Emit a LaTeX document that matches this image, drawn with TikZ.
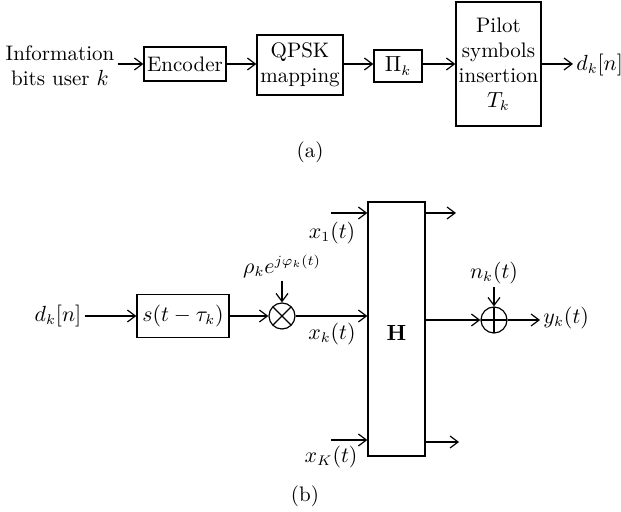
\documentclass[tikz,border=0pt]{standalone}
\usepackage{amsmath,amssymb}
\usepackage{tikz}
\usetikzlibrary{arrows.meta,positioning,calc}

\tikzset{
  blk/.style={draw, line width=0.6pt, inner sep=1pt, align=center},
  mixer/.style={draw, circle, line width=0.6pt, minimum size=13pt, inner sep=0pt},
  sig/.style={line width=0.6pt, -{Straight Barb[length=4pt,width=6pt]}},
  lbl/.style={inner sep=1.5pt, align=center}
}

\begin{document}
\begin{tikzpicture}[x=0.5pt, y=-0.5pt, font=\fontsize{10.5}{12.5}\selectfont]
  \useasboundingbox (0,0) rectangle (621,512);

  % (a) transmitter chain
  \node[lbl] (info) at (60,66) {Information\\bits user $k$};
  \node[blk, minimum width=41pt, minimum height=17pt] (enc) at (185,64) {Encoder};
  \node[blk, minimum width=43pt, minimum height=30pt] (qpsk) at (300,65) {QPSK\\mapping};
  \node[blk, minimum width=24pt, minimum height=16pt] (pi) at (398,66) {$\Pi_k$};
  \node[blk, minimum width=42.5pt, minimum height=62pt] (pilot) at (498.5,64) {Pilot\\symbols\\insertion\\$T_k$};
  \node[lbl, anchor=west] (dout) at (573,65) {$d_k[n]$};
  \draw[sig] (info.east |- enc.west) -- (enc.west);
  \draw[sig] (enc.east) -- (enc.east -| qpsk.west);
  \draw[sig] (enc.east -| qpsk.east) -- (enc.east -| pi.west);
  \draw[sig] (enc.east -| pi.east) -- (enc.east -| pilot.west);
  \draw[sig] (enc.east -| pilot.east) -- (dout.west |- enc.east);
  \node (capa) at (310,152) {(a)};

  % (b) channel model
  \node[lbl] (din) at (58,316) {$d_k[n]$};
  \node[blk, minimum width=46pt, minimum height=21.5pt] (shape) at (183,316) {$s(t-\tau_k)$};
  \node[mixer, path picture={
    \draw[line width=0.6pt] (path picture bounding box.south west) -- (path picture bounding box.north east)
      (path picture bounding box.north west) -- (path picture bounding box.south east);}] (mul) at (282,316) {};
  \node[lbl] (phase) at (282,266) {$\rho_k e^{j\varphi_k(t)}$};
  \node[blk, minimum width=28.5pt, minimum height=127pt] (H) at (396.5,329) {};
  \node (Hlbl) at (396.5,333) {$\mathbf{H}$};
  \node[mixer, path picture={
    \draw[line width=0.6pt] (path picture bounding box.north) -- (path picture bounding box.south)
      (path picture bounding box.west) -- (path picture bounding box.east);}] (add) at (494,320) {};
  \node[lbl] (noise) at (494,273) {$n_k(t)$};
  \node[lbl, anchor=west] (yout) at (540,318) {$y_k(t)$};

  \draw[sig] (din.east) -- (shape.west);
  \draw[sig] (shape.east) -- (mul.west);
  \draw[sig] (phase.south) -- (mul.north);
  \draw[sig] (mul.east) -- (mul.east -| H.west);
  \draw[sig] (noise.south) -- (add.north);
  \draw[sig] (H.east |- add.west) -- (add.west);
  \draw[sig] (add.east) -- (yout.west |- add.east);

  % other users in and out of H
  \coordinate (xone) at (331,213);
  \coordinate (xbig) at (331,440);
  \coordinate (oone) at (456,213);
  \coordinate (obig) at (459,442);
  \draw[sig] (xone) -- (xone -| H.west);
  \draw[sig] (xbig) -- (xbig -| H.west);
  \draw[sig] (oone -| H.east) -- (oone);
  \draw[sig] (obig -| H.east) -- (obig);
  \node (lone) at (332,233) {$x_1(t)$};
  \node (lk) at (332,334) {$x_k(t)$};
  \node (lbig) at (331,457) {$x_K(t)$};
  \node (capb) at (305,496) {(b)};
\end{tikzpicture}
\end{document}
